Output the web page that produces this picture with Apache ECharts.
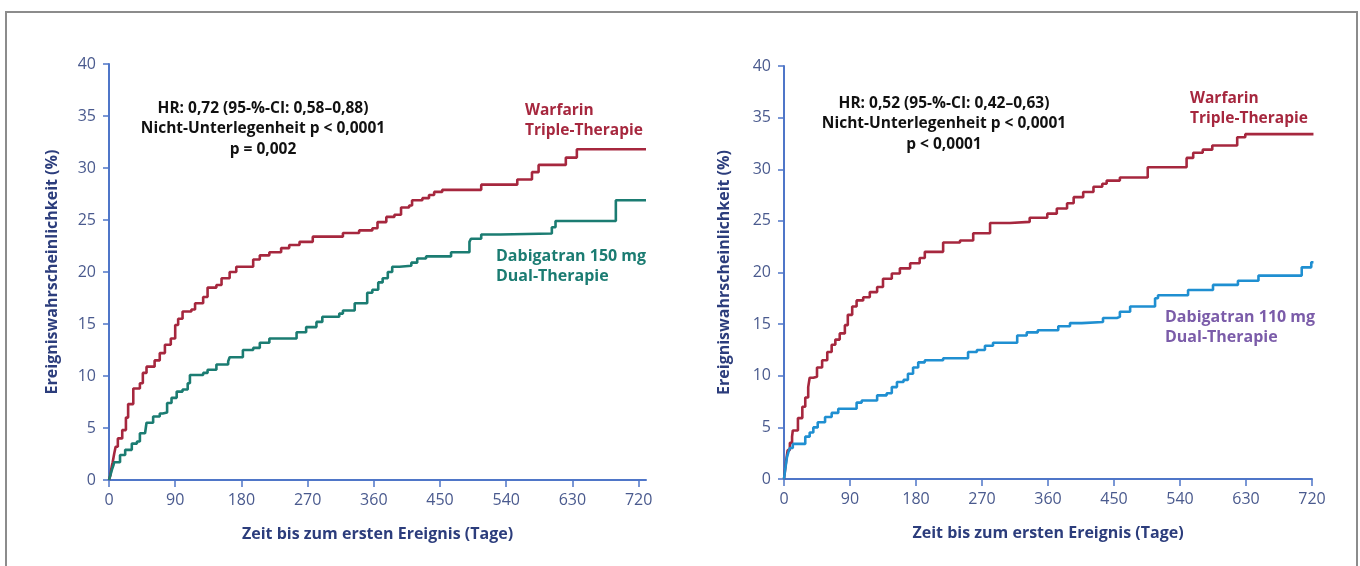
<!DOCTYPE html>
<html>
<head>
<meta charset="utf-8">
<script src="https://cdn.jsdelivr.net/npm/echarts@6/dist/echarts.min.js"></script>
<style>
  html, body { margin: 0; padding: 0; background: #fff; }
  #main { width: 1360px; height: 566px; }
</style>
</head>
<body>
<div id="main"></div>
<script>
// tick labels
var xTicksLeft = [0, 90, 180, 270, 360, 450, 540, 630, 720];
var xTicksRight = [0, 90, 180, 270, 360, 450, 540, 630, 720];

// links: Dabigatran 150 mg vs Warfarin (Tage / Prozent)
var warfarinLeftDays = [0, 2, 3, 4, 5, 7, 9, 12, 18, 23, 26, 33, 42, 46, 51, 62, 69, 76, 84, 90, 94, 100, 112, 117, 128, 134, 146, 153, 164, 173, 196, 205, 218, 234, 245, 259, 277, 318, 340, 358, 365, 377, 388, 397, 408, 412, 426, 435, 442, 453, 506, 555, 575, 584, 621, 636, 730];
var warfarinLeftValues = [0, 0.5, 1, 1.4, 1.7, 2.5, 3.2, 4, 4.8, 6, 7.3, 8.8, 9.3, 10.3, 10.9, 11.5, 12.2, 13, 13.6, 14.9, 15.5, 16.2, 16.4, 17, 17.6, 18.5, 18.75, 19.4, 20, 20.5, 21.2, 21.6, 21.9, 22.3, 22.6, 22.9, 23.4, 23.75, 24, 24.2, 24.8, 25.3, 25.5, 26.2, 26.4, 26.9, 27.1, 27.4, 27.7, 27.9, 28.4, 28.9, 29.6, 30.3, 31, 31.8, 31.8];
var dabi150Days = [0, 2, 4, 6, 7, 15, 22, 31, 38, 42, 49, 51, 60, 69, 73, 79, 85, 92, 100, 107, 110, 128, 134, 146, 162, 164, 182, 196, 205, 218, 255, 268, 282, 290, 313, 318, 334, 351, 358, 366, 372, 379, 385, 395, 411, 419, 431, 465, 490, 492, 506, 532, 602, 607, 689, 730];
var dabi150Values = [0, 0.5, 1, 1.4, 1.7, 2.4, 2.9, 3.5, 3.7, 4.5, 4.6, 5.5, 6.1, 6.4, 6.5, 7.4, 7.9, 8.5, 8.7, 9.3, 10.1, 10.3, 10.6, 11.1, 11.4, 11.8, 12.5, 12.7, 13.2, 13.6, 14.2, 14.7, 15.2, 15.7, 16, 16.3, 17, 18, 18.3, 19, 19.4, 20, 20.5, 20.6, 20.9, 21.3, 21.5, 21.9, 22.9, 23.2, 23.6, 23.7, 24.3, 24.9, 26.9, 26.9];

// rechts: Dabigatran 110 mg vs Warfarin
var warfarinRightDays = [0, 1, 2, 3, 4, 5, 8, 11, 12, 19, 25, 29, 33, 35, 40, 45, 52, 59, 65, 70, 76, 83, 87, 93, 99, 108, 117, 127, 135, 147, 158, 172, 185, 192, 217, 240, 258, 281, 308, 335, 359, 372, 386, 395, 408, 422, 434, 440, 458, 496, 549, 558, 571, 584, 618, 629, 722];
var warfarinRightValues = [0, 0.6, 1.2, 1.8, 2.3, 2.8, 3.5, 4.1, 4.7, 5.9, 7, 7.9, 8.9, 9.8, 9.9, 10.8, 11.5, 12.3, 13, 13.5, 14.1, 14.9, 15.9, 16.7, 17.3, 17.6, 18.1, 18.6, 19.4, 19.9, 20.4, 20.9, 21.4, 22, 22.9, 23.1, 23.8, 24.8, 24.9, 25.3, 25.7, 26.2, 26.7, 27.3, 27.8, 28.3, 28.6, 28.9, 29.2, 30.2, 31.1, 31.6, 31.9, 32.3, 33.1, 33.4, 33.4];
var dabi110Days = [0, 1, 2, 3, 4, 6, 8, 12, 29, 35, 40, 46, 56, 65, 74, 99, 106, 127, 140, 147, 154, 163, 169, 176, 183, 192, 217, 251, 263, 274, 285, 318, 331, 346, 374, 390, 406, 435, 454, 458, 472, 506, 510, 551, 585, 619, 647, 706, 719, 722];
var dabi110Values = [0, 0.6, 1.1, 1.6, 2.1, 2.6, 3, 3.4, 4.1, 4.5, 5, 5.5, 6, 6.4, 6.8, 7.4, 7.6, 8.1, 8.3, 8.9, 9.4, 9.6, 10.2, 10.8, 11.3, 11.5, 11.7, 12.3, 12.5, 12.9, 13.2, 13.9, 14.2, 14.4, 14.8, 15.1, 15.2, 15.6, 15.7, 16.2, 16.7, 17.5, 17.8, 18.3, 18.8, 19.2, 19.7, 20.5, 21, 21];

function pairs(days, vals) {
  return days.map(function (d, i) { return [d, vals[i]]; });
}

var axisBlue = '#4f76c8';
var labelBlue = '#4a5a8e';
var titleBlue = '#2c3d7c';
var font = '"Open Sans", "DejaVu Sans", sans-serif';

function xAxisOf(gridIndex, max, ticks) {
  return {
    gridIndex: gridIndex,
    type: 'value',
    min: 0,
    max: max,
    interval: 90,
    name: 'Zeit bis zum ersten Ereignis (Tage)',
    nameLocation: 'middle',
    nameGap: 46,
    nameTextStyle: { color: titleBlue, fontSize: 16, fontWeight: 'bold', fontFamily: font },
    axisLine: { onZero: false, lineStyle: { color: axisBlue, width: 2 } },
    axisTick: { show: true, inside: false, length: 7, customValues: ticks, lineStyle: { color: axisBlue, width: 1.5 } },
    axisLabel: { color: labelBlue, fontSize: 16, margin: 12, fontFamily: font, customValues: ticks },
    splitLine: { show: false }
  };
}

function yAxisOf(gridIndex, gap) {
  return {
    gridIndex: gridIndex,
    type: 'value',
    min: 0,
    max: 40,
    interval: 5,
    name: 'Ereigniswahrscheinlichkeit (%)',
    nameLocation: 'middle',
    nameGap: gap,
    nameTextStyle: { color: titleBlue, fontSize: 16, fontWeight: 'bold', fontFamily: font },
    axisLine: { show: true, lineStyle: { color: axisBlue, width: 2 } },
    axisTick: { show: true, inside: false, length: 6, lineStyle: { color: axisBlue, width: 1.5 } },
    axisLabel: { color: labelBlue, fontSize: 16, margin: 13, fontFamily: font },
    splitLine: { show: false }
  };
}

function curve(name, xi, data, color) {
  return {
    name: name,
    type: 'line',
    xAxisIndex: xi,
    yAxisIndex: xi,
    step: 'end',
    symbol: 'none',
    data: data,
    lineStyle: { color: color, width: 2.6 },
    itemStyle: { color: color }
  };
}

var textStyle = function (x, y, text, color, align, size) {
  return {
    type: 'text',
    x: x,
    y: y,
    style: {
      text: text,
      fill: color,
      font: 'bold ' + size + 'px ' + font,
      textAlign: align,
      textVerticalAlign: 'top',
      lineHeight: 20.5
    }
  };
};

var option = {
  animation: false,
  backgroundColor: '#fff',
  grid: [
    { left: 109, top: 64, width: 537, height: 416 },
    { left: 784, top: 66, width: 528, height: 413 }
  ],
  xAxis: [xAxisOf(0, 730, xTicksLeft), xAxisOf(1, 720, xTicksRight)],
  yAxis: [yAxisOf(0, 49), yAxisOf(1, 52)],
  series: [
    curve('Warfarin Triple-Therapie', 0, pairs(warfarinLeftDays, warfarinLeftValues), '#a6273e'),
    curve('Dabigatran 150 mg Dual-Therapie', 0, pairs(dabi150Days, dabi150Values), '#1b7c72'),
    curve('Warfarin Triple-Therapie', 1, pairs(warfarinRightDays, warfarinRightValues), '#a6273e'),
    curve('Dabigatran 110 mg Dual-Therapie', 1, pairs(dabi110Days, dabi110Values), '#1f8fd1')
  ],
  graphic: [
    // Rahmen
    { type: 'rect', shape: { x: 6, y: 12, width: 1351, height: 600 }, style: { fill: 'none', stroke: '#8c8c8c', lineWidth: 2 } },
    textStyle(263, 98, 'HR: 0,72 (95-%-CI: 0,58–0,88)\nNicht-Unterlegenheit p < 0,0001\np = 0,002', '#111', 'center', 15.5),
    textStyle(525, 100, 'Warfarin\nTriple-Therapie', '#a6273e', 'left', 15.5),
    textStyle(496, 246, 'Dabigatran 150 mg\nDual-Therapie', '#1b7c72', 'left', 16),
    textStyle(944, 93, 'HR: 0,52 (95-%-CI: 0,42–0,63)\nNicht-Unterlegenheit p < 0,0001\np < 0,0001', '#111', 'center', 15.5),
    textStyle(1190, 88, 'Warfarin\nTriple-Therapie', '#a6273e', 'left', 15.5),
    textStyle(1165, 307, 'Dabigatran 110 mg\nDual-Therapie', '#7b5ca9', 'left', 16)
  ]
};

var myChart = echarts.init(document.getElementById('main'));
myChart.setOption(option);
</script>
</body>
</html>
